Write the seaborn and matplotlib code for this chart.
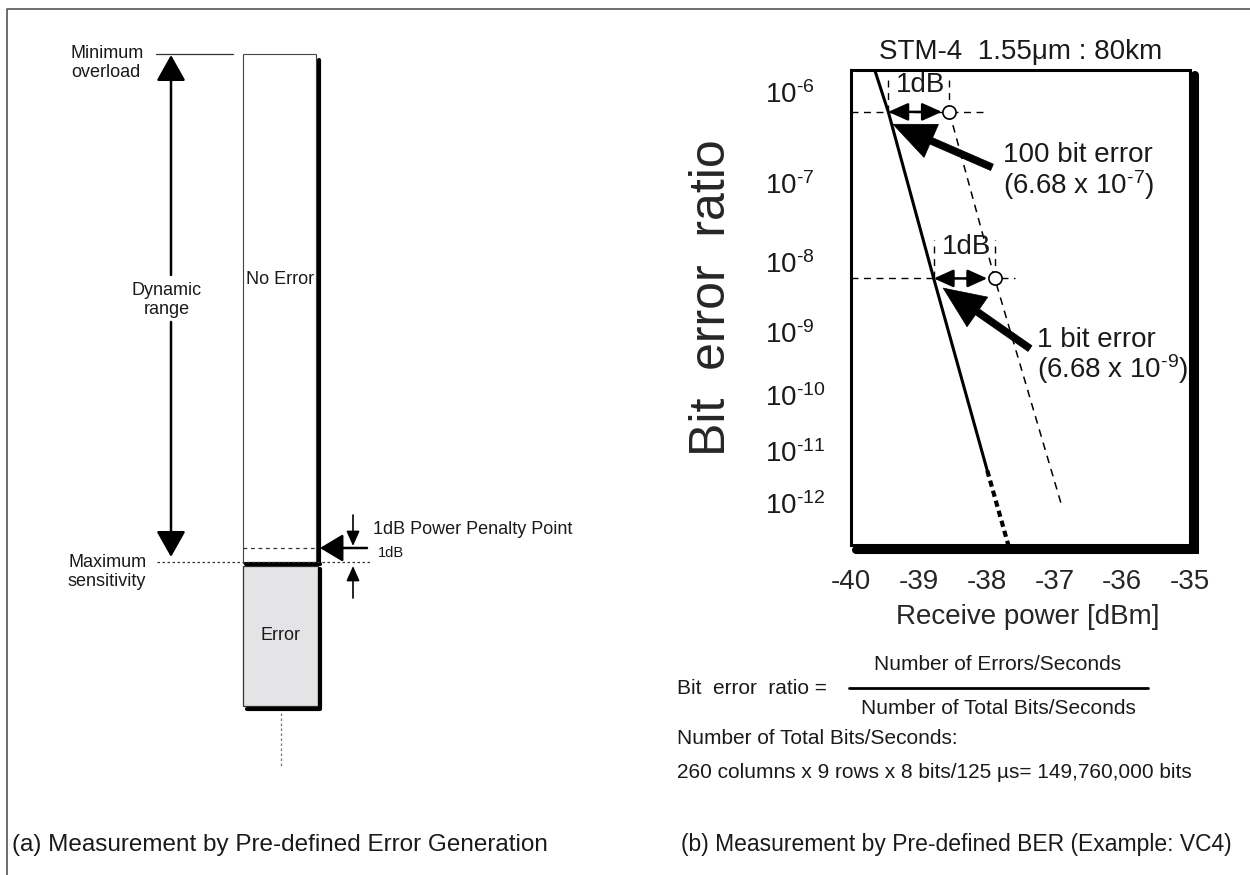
import numpy as np
import seaborn as sns
import matplotlib.pyplot as plt
from matplotlib import transforms
from matplotlib.patches import Rectangle

# --- data ------------------------------------------------------------------
# measured BER curve (STM-4, 1.55um, 80 km)
measured_dbm = [-39.65, -39.45, -38.78, -37.99]
measured_ber = [1.76e-6, 6.68e-7, 6.68e-9, 5e-12]
# extrapolated part of the measured curve
extrap_dbm = [-37.99, -37.68]
extrap_ber = [5e-12, 1.55e-13]
# curve shifted by the 1dB power penalty
penalty_dbm = [-38.55, -37.88, -36.89]
penalty_ber = [6.68e-7, 6.68e-9, 1e-12]
# the two reference BER levels (100 bit error / 1 bit error)
ref_ber = [6.68e-7, 6.68e-9]
ref_meas_dbm = [-39.45, -38.78]
ref_pen_dbm = [-38.55, -37.88]

ber_ticks = [1e-6, 1e-7, 1e-8, 1e-9, 1e-10, 1e-11, 1e-12]
ber_labels = [r"10$^{\text{-%d}}$" % k for k in range(6, 13)]
dbm_ticks = [-40, -39, -38, -37, -36, -35]

# levels of the left schematic (drawing units, top = 0)
overload_lvl = 54
penalty_lvl = 548
sensitivity_lvl = 563
error_bottom_lvl = 706


def fwd(b):
    b = np.clip(np.asarray(b, dtype=float), 1e-300, 0.999999)
    return -np.log10(-np.log10(b))


def inv(y):
    y = np.asarray(y, dtype=float)
    return 10.0 ** (-(10.0 ** (-y)))


sns.set_theme(style="white")
plt.rcParams["font.family"] = ["Liberation Sans", "DejaVu Sans"]
plt.rcParams["mathtext.fontset"] = "custom"
plt.rcParams["mathtext.rm"] = "Liberation Sans"
plt.rcParams["mathtext.it"] = "Liberation Sans:italic"
plt.rcParams["mathtext.bf"] = "Liberation Sans:bold"
plt.rcParams["axes.unicode_minus"] = False
plt.rcParams["text.color"] = "#1a1a1a"

fig = plt.figure(figsize=(12.5, 8.75), dpi=100)

# full-page layer for the schematic and the notes
bg = fig.add_axes([0, 0, 1, 1])
bg.set_xlim(0, 1250)
bg.set_ylim(875, 0)
bg.axis("off")

bg.plot([7, 7, 1250], [875, 9, 9], color="#555555", lw=1.2)

# (a) schematic
bx0, bx1 = 243, 316
bg.add_patch(Rectangle((bx0, overload_lvl), bx1 - bx0, sensitivity_lvl - overload_lvl,
                       facecolor="white", edgecolor="#444444", lw=0.8))
bg.plot([bx1 + 2.5, bx1 + 2.5], [overload_lvl + 6, sensitivity_lvl], color="black", lw=3)
bg.add_patch(Rectangle((bx0, sensitivity_lvl + 3), bx1 + 2 - bx0, error_bottom_lvl - sensitivity_lvl - 3,
                       facecolor="#e4e4e6", edgecolor="#333333", lw=0.9))
bg.plot([bx1 + 4, bx1 + 4, bx0 + 4], [sensitivity_lvl + 6, error_bottom_lvl + 2.5, error_bottom_lvl + 2.5],
        color="black", lw=3)
bg.plot([bx0 + 3, bx1 + 4], [sensitivity_lvl + 1, sensitivity_lvl + 1], color="black", lw=3)
bg.plot([bx0, bx1 + 2], [penalty_lvl, penalty_lvl], color="#333333", lw=0.9, ls=(0, (3, 3)))
bg.plot([157, 372], [sensitivity_lvl - 1, sensitivity_lvl - 1], color="#333333", lw=0.9, ls=(0, (2, 2)))
bg.plot([156, 233], [overload_lvl, overload_lvl], color="#333333", lw=0.9)
bg.plot([281, 281], [error_bottom_lvl + 7, 768], color="#777777", lw=0.9, ls=(0, (2, 2)))

big = dict(arrowstyle="-|>,head_length=0.8,head_width=0.45", color="black", lw=1.8,
           mutation_scale=20, shrinkA=0, shrinkB=0)
bg.annotate("", xy=(171, overload_lvl + 1), xytext=(171, 275), arrowprops=big)
bg.annotate("", xy=(171, sensitivity_lvl - 6), xytext=(171, 322), arrowprops=big)
bg.annotate("", xy=(bx1 + 4, penalty_lvl), xytext=(367, penalty_lvl),
            arrowprops=dict(arrowstyle="-|>,head_length=0.75,head_width=0.45", color="black",
                            lw=1.8, mutation_scale=19, shrinkA=0, shrinkB=0))
small = dict(arrowstyle="-|>,head_length=0.9,head_width=0.4", color="black", lw=1.2,
             mutation_scale=10, shrinkA=0, shrinkB=0)
bg.annotate("", xy=(353, penalty_lvl - 2), xytext=(353, 515), arrowprops=small)
bg.annotate("", xy=(353, sensitivity_lvl + 3), xytext=(353, 598), arrowprops=small)

bg.text(71, 63, "Minimum\noverload", fontsize=13, ha="left", va="center")
bg.text(68, 572, "Maximum\nsensitivity", fontsize=13, ha="left", va="center")
bg.text(167, 300, "Dynamic\nrange", fontsize=13, ha="center", va="center", multialignment="center")
bg.text(246, 280, "No Error", fontsize=13, ha="left", va="center")
bg.text(281, 635, "Error", fontsize=13, ha="center", va="center")
bg.text(373, 530, "1dB Power Penalty Point", fontsize=13, ha="left", va="center")
bg.text(378, 553, "1dB", fontsize=10.5, ha="left", va="center")
bg.text(12, 845, "(a) Measurement by Pre-defined Error Generation", fontsize=17.5, ha="left", va="center")

# (b) notes under the chart
bg.text(677, 688, "Bit  error  ratio =", fontsize=15, ha="left", va="center")
bg.text(998, 665, "Number of Errors/Seconds", fontsize=15, ha="center", va="center")
bg.plot([849, 1148], [688, 688], color="black", lw=2)
bg.text(998, 709, "Number of Total Bits/Seconds", fontsize=15, ha="center", va="center")
bg.text(677, 738, "Number of Total Bits/Seconds:", fontsize=15, ha="left", va="center")
bg.text(677, 772, "260 columns x 9 rows x 8 bits/125 \u00b5s= 149,760,000 bits", fontsize=15,
        ha="left", va="center")
bg.text(681, 845, "(b) Measurement by Pre-defined BER (Example: VC4)", fontsize=16.5, ha="left", va="center")

# (b) BER chart
ax = fig.add_axes([851 / 1250, 1 - 545 / 875, 339 / 1250, 475 / 875])
ax.set_yscale("function", functions=(fwd, inv))
ax.set_xlim(-40, -35)
ax.set_ylim(1.55e-13, 1.76e-6)

sns.lineplot(x=measured_dbm, y=measured_ber, ax=ax, color="black", lw=2.2, sort=False)
sns.lineplot(x=extrap_dbm, y=extrap_ber, ax=ax, color="black", lw=3, sort=False,
             linestyle=(0, (1.5, 1.0)))
sns.lineplot(x=penalty_dbm, y=penalty_ber, ax=ax, color="black", lw=1.1, sort=False,
             linestyle=(0, (5, 4)))

dash = dict(color="black", lw=1.0, ls=(0, (5, 4)))
ax.plot([-40, -38.0], [ref_ber[0]] * 2, **dash)
ax.plot([-40, -37.58], [ref_ber[1]] * 2, **dash)
for xm, xp, b, top in zip(ref_meas_dbm, ref_pen_dbm, ref_ber, [1.55e-6, 2.2e-8]):
    ax.plot([xm, xm], [b, top], **dash)
    ax.plot([xp, xp], [b, top], **dash)
    ax.annotate("", xy=(xp - 0.11, b), xytext=(xm, b),
                arrowprops=dict(arrowstyle="<|-|>,head_length=1.0,head_width=0.45", color="black",
                                lw=1.8, mutation_scale=12, shrinkA=0, shrinkB=0))
    ax.text((xm + xp) / 2 + 0.03, top * 0.8, "1dB", fontsize=20, ha="center", va="center")

sns.scatterplot(x=ref_pen_dbm, y=ref_ber, ax=ax, s=90, color="white", edgecolor="black",
                linewidth=1.2, zorder=5)

fat = dict(arrowstyle="simple,head_length=1.5,head_width=1.3,tail_width=0.25", fc="black",
           ec="black", lw=0.5, mutation_scale=20, shrinkA=0, shrinkB=0)
ax.annotate("", xy=(-39.38, 4.95e-7), xytext=(-37.92, 1.66e-7), arrowprops=fat)
ax.annotate("", xy=(-38.64, 4.9e-9), xytext=(-37.36, 6.3e-10), arrowprops=fat)
ax.text(-37.76, 2.3e-7, "100 bit error", fontsize=20, ha="left", va="center")
ax.text(-37.76, 1.03e-7, r"(6.68 x 10$^{\text{-7}}$)", fontsize=20, ha="left", va="center")
ax.text(-37.26, 8.5e-10, "1 bit error", fontsize=20, ha="left", va="center")
ax.text(-37.26, 2.95e-10, r"(6.68 x 10$^{\text{-9}}$)", fontsize=20, ha="left", va="center")

ax.set_xticks(dbm_ticks)
ax.set_xticklabels([str(v) for v in dbm_ticks], fontsize=20)
ax.set_yticks(ber_ticks)
ax.set_yticklabels([])
ax.yaxis.set_minor_locator(plt.NullLocator())
for b, lab in zip(ber_ticks, ber_labels):
    ax.text(-0.254, b, lab, transform=ax.get_yaxis_transform(), fontsize=20, ha="left", va="center")
ax.tick_params(axis="x", direction="in", length=5, width=1.5, pad=17, color="black")
ax.tick_params(axis="y", direction="inout", length=20, width=1.1, color="black")
for sp in ax.spines.values():
    sp.set_linewidth(2.2)
    sp.set_color("black")

shadow = transforms.offset_copy(ax.transAxes, fig=fig, x=5, y=-5, units="dots")
ax.plot([0, 1, 1], [0, 0, 1], transform=shadow, color="black", lw=5.8, clip_on=False,
        solid_joinstyle="miter")

ax.set_title("STM-4  1.55\u03bcm : 80km", fontsize=20, pad=8)
ax.set_xlabel("Receive power [dBm]", fontsize=20)
ax.xaxis.set_label_coords(0.522, -0.152)
ax.xaxis.label.set_va("center")
ax.set_ylabel("Bit  error  ratio", fontsize=36)
ax.yaxis.set_label_coords(-0.41, 0.52)
ax.yaxis.label.set_va("center")

fig.savefig("out.png", dpi=100)
